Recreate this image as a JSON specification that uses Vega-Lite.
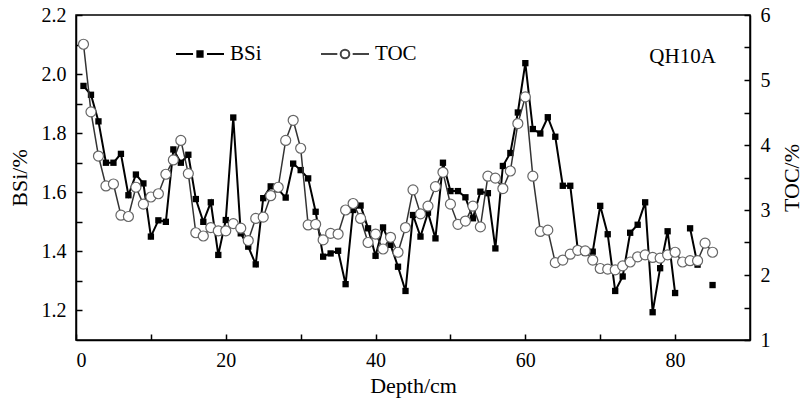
{
  "$schema": "https://vega.github.io/schema/vega-lite/v6.json",
  "width": 674,
  "height": 325,
  "autosize": {"type": "none"},
  "padding": {"left": 76, "top": 15, "right": 54, "bottom": 66},
  "background": "white",
  "config": {
    "font": "Liberation Serif",
    "view": {"stroke": "black", "strokeWidth": 1.5},
    "axis": {
      "grid": false,
      "domainColor": "black",
      "domainWidth": 1.5,
      "tickColor": "black",
      "tickWidth": 1.5,
      "labelColor": "black",
      "labelFont": "Liberation Serif",
      "labelFontSize": 20,
      "titleFont": "Liberation Serif",
      "titleFontSize": 22,
      "titleFontWeight": "normal",
      "titleColor": "black"
    },
    "legend": {
      "labelFont": "Liberation Serif",
      "labelFontSize": 21,
      "labelColor": "black"
    }
  },
  "data": {
    "values": [
      {"d": 1, "BSi": 1.96, "TOC": 5.55, "seg": 1},
      {"d": 2, "BSi": 1.93, "TOC": 4.51, "seg": 1},
      {"d": 3, "BSi": 1.84, "TOC": 3.83, "seg": 1},
      {"d": 4, "BSi": 1.70, "TOC": 3.37, "seg": 1},
      {"d": 5, "BSi": 1.70, "TOC": 3.40, "seg": 1},
      {"d": 6, "BSi": 1.73, "TOC": 2.92, "seg": 1},
      {"d": 7, "BSi": 1.59, "TOC": 2.90, "seg": 1},
      {"d": 8, "BSi": 1.66, "TOC": 3.35, "seg": 1},
      {"d": 9, "BSi": 1.63, "TOC": 3.09, "seg": 1},
      {"d": 10, "BSi": 1.45, "TOC": 3.20, "seg": 1},
      {"d": 11, "BSi": 1.505, "TOC": 3.25, "seg": 1},
      {"d": 12, "BSi": 1.50, "TOC": 3.55, "seg": 1},
      {"d": 13, "BSi": 1.745, "TOC": 3.77, "seg": 1},
      {"d": 14, "BSi": 1.70, "TOC": 4.07, "seg": 1},
      {"d": 15, "BSi": 1.727, "TOC": 3.56, "seg": 1},
      {"d": 16, "BSi": 1.577, "TOC": 2.65, "seg": 1},
      {"d": 17, "BSi": 1.50, "TOC": 2.60, "seg": 1},
      {"d": 18, "BSi": 1.566, "TOC": 2.73, "seg": 1},
      {"d": 19, "BSi": 1.388, "TOC": 2.68, "seg": 1},
      {"d": 20, "BSi": 1.506, "TOC": 2.68, "seg": 1},
      {"d": 21, "BSi": 1.853, "TOC": 2.79, "seg": 1},
      {"d": 22, "BSi": 1.461, "TOC": 2.72, "seg": 1},
      {"d": 23, "BSi": 1.416, "TOC": 2.53, "seg": 1},
      {"d": 24, "BSi": 1.356, "TOC": 2.87, "seg": 1},
      {"d": 25, "BSi": 1.58, "TOC": 2.89, "seg": 1},
      {"d": 26, "BSi": 1.62, "TOC": 3.22, "seg": 1},
      {"d": 27, "BSi": 1.61, "TOC": 3.35, "seg": 1},
      {"d": 28, "BSi": 1.582, "TOC": 4.07, "seg": 1},
      {"d": 29, "BSi": 1.697, "TOC": 4.38, "seg": 1},
      {"d": 30, "BSi": 1.675, "TOC": 3.95, "seg": 1},
      {"d": 31, "BSi": 1.647, "TOC": 2.77, "seg": 1},
      {"d": 32, "BSi": 1.534, "TOC": 2.78, "seg": 1},
      {"d": 33, "BSi": 1.382, "TOC": 2.54, "seg": 1},
      {"d": 34, "BSi": 1.393, "TOC": 2.64, "seg": 1},
      {"d": 35, "BSi": 1.402, "TOC": 2.63, "seg": 1},
      {"d": 36, "BSi": 1.289, "TOC": 3.00, "seg": 1},
      {"d": 37, "BSi": 1.540, "TOC": 3.10, "seg": 1},
      {"d": 38, "BSi": 1.555, "TOC": 2.87, "seg": 1},
      {"d": 39, "BSi": 1.478, "TOC": 2.50, "seg": 1},
      {"d": 40, "BSi": 1.385, "TOC": 2.63, "seg": 1},
      {"d": 41, "BSi": 1.481, "TOC": 2.40, "seg": 1},
      {"d": 42, "BSi": 1.422, "TOC": 2.58, "seg": 1},
      {"d": 43, "BSi": 1.348, "TOC": 2.35, "seg": 1},
      {"d": 44, "BSi": 1.266, "TOC": 2.73, "seg": 1},
      {"d": 45, "BSi": 1.523, "TOC": 3.31, "seg": 1},
      {"d": 46, "BSi": 1.450, "TOC": 2.94, "seg": 1},
      {"d": 47, "BSi": 1.531, "TOC": 3.06, "seg": 1},
      {"d": 48, "BSi": 1.444, "TOC": 3.36, "seg": 1},
      {"d": 49, "BSi": 1.700, "TOC": 3.58, "seg": 1},
      {"d": 50, "BSi": 1.604, "TOC": 3.09, "seg": 1},
      {"d": 51, "BSi": 1.604, "TOC": 2.78, "seg": 1},
      {"d": 52, "BSi": 1.583, "TOC": 2.83, "seg": 1},
      {"d": 53, "BSi": 1.512, "TOC": 3.06, "seg": 1},
      {"d": 54, "BSi": 1.602, "TOC": 2.74, "seg": 1},
      {"d": 55, "BSi": 1.597, "TOC": 3.52, "seg": 1},
      {"d": 56, "BSi": 1.410, "TOC": 3.49, "seg": 1},
      {"d": 57, "BSi": 1.689, "TOC": 3.33, "seg": 1},
      {"d": 58, "BSi": 1.733, "TOC": 3.60, "seg": 1},
      {"d": 59, "BSi": 1.870, "TOC": 4.33, "seg": 1},
      {"d": 60, "BSi": 2.037, "TOC": 4.74, "seg": 1},
      {"d": 61, "BSi": 1.814, "TOC": 3.52, "seg": 1},
      {"d": 62, "BSi": 1.799, "TOC": 2.67, "seg": 1},
      {"d": 63, "BSi": 1.854, "TOC": 2.69, "seg": 1},
      {"d": 64, "BSi": 1.788, "TOC": 2.19, "seg": 1},
      {"d": 65, "BSi": 1.622, "TOC": 2.23, "seg": 1},
      {"d": 66, "BSi": 1.622, "TOC": 2.32, "seg": 1},
      {"d": 67, "BSi": 1.407, "TOC": 2.38, "seg": 1},
      {"d": 68, "BSi": 1.395, "TOC": 2.37, "seg": 1},
      {"d": 69, "BSi": 1.399, "TOC": 2.23, "seg": 1},
      {"d": 70, "BSi": 1.554, "TOC": 2.10, "seg": 1},
      {"d": 71, "BSi": 1.458, "TOC": 2.09, "seg": 1},
      {"d": 72, "BSi": 1.266, "TOC": 2.08, "seg": 1},
      {"d": 73, "BSi": 1.315, "TOC": 2.14, "seg": 1},
      {"d": 74, "BSi": 1.463, "TOC": 2.20, "seg": 1},
      {"d": 75, "BSi": 1.49, "TOC": 2.28, "seg": 1},
      {"d": 76, "BSi": 1.566, "TOC": 2.31, "seg": 1},
      {"d": 77, "BSi": 1.194, "TOC": 2.27, "seg": 1},
      {"d": 78, "BSi": 1.343, "TOC": 2.26, "seg": 1},
      {"d": 79, "BSi": 1.468, "TOC": 2.31, "seg": 1},
      {"d": 80, "BSi": 1.259, "TOC": 2.35, "seg": 1},
      {"d": 81, "BSi": null, "TOC": 2.20, "seg": 1},
      {"d": 82, "BSi": 1.478, "TOC": 2.22, "seg": 2},
      {"d": 83, "BSi": 1.355, "TOC": 2.22, "seg": 2},
      {"d": 84, "BSi": null, "TOC": 2.49, "seg": 3},
      {"d": 85, "BSi": 1.286, "TOC": 2.35, "seg": 3}
    ]
  },
  "layer": [
    {
      "transform": [{"filter": "isValid(datum.BSi)"}],
      "mark": {"type": "line", "color": "black", "strokeWidth": 2},
      "encoding": {
        "x": {
          "field": "d",
          "type": "quantitative",
          "scale": {"domain": [0, 90], "nice": false},
          "axis": {
            "title": "Depth/cm",
            "values": [0, 10, 20, 30, 40, 50, 60, 70, 80],
            "labelExpr": "datum.value % 20 === 0 ? format(datum.value, 'd') : ''",
            "tickSize": -6,
            "labelPadding": 16,
            "titlePadding": 5
          }
        },
        "y": {
          "field": "BSi",
          "type": "quantitative",
          "scale": {"domain": [1.1, 2.2], "nice": false, "zero": false},
          "axis": {
            "orient": "left",
            "title": "BSi/%",
            "values": [1.2, 1.3, 1.4, 1.5, 1.6, 1.7, 1.8, 1.9, 2.0, 2.1, 2.2],
            "labelExpr": "round(datum.value * 10) % 2 === 0 ? format(datum.value, '.1f') : ''",
            "tickSize": -6,
            "labelPadding": 16,
            "titlePadding": 10
          }
        },
        "detail": {"field": "seg"}
      }
    },
    {
      "transform": [{"filter": "isValid(datum.BSi)"}],
      "mark": {"type": "square", "size": 40, "color": "black", "filled": true, "opacity": 1},
      "encoding": {
        "x": {"field": "d", "type": "quantitative"},
        "y": {"field": "BSi", "type": "quantitative", "scale": {"domain": [1.1, 2.2], "nice": false, "zero": false}, "axis": null}
      }
    },
    {
      "mark": {"type": "line", "color": "#333333", "strokeWidth": 1.5},
      "encoding": {
        "x": {"field": "d", "type": "quantitative"},
        "y": {
          "field": "TOC",
          "type": "quantitative",
          "scale": {"domain": [1, 6], "nice": false, "zero": false},
          "axis": {
            "orient": "right",
            "title": "TOC/%",
            "values": [1, 1.5, 2, 2.5, 3, 3.5, 4, 4.5, 5, 5.5, 6],
            "labelExpr": "datum.value % 1 === 0 ? format(datum.value, 'd') : ''",
            "tickSize": -6,
            "labelPadding": 16,
            "titlePadding": 11,
            "titleAngle": 270,
            "titleBaseline": "top"
          }
        }
      }
    },
    {
      "mark": {"type": "point", "shape": "circle", "size": 100, "fill": "white", "filled": false, "stroke": "#666666", "strokeWidth": 1.2, "opacity": 1},
      "encoding": {
        "x": {"field": "d", "type": "quantitative"},
        "y": {"field": "TOC", "type": "quantitative", "scale": {"domain": [1, 6], "nice": false, "zero": false}, "axis": null}
      }
    },
    {
      "data": {"values": [{"site": "QH10A", "xd": 81, "yv": 5.35}]},
      "mark": {"type": "text", "font": "Liberation Serif", "fontSize": 21, "color": "black", "align": "center", "baseline": "middle"},
      "encoding": {
        "x": {"field": "xd", "type": "quantitative"},
        "y": {"field": "yv", "type": "quantitative", "scale": {"domain": [1, 6], "nice": false, "zero": false}, "axis": null},
        "text": {"field": "site"}
      }
    },
    {
      "transform": [{"filter": "false"}],
      "mark": {"type": "point", "opacity": 1},
      "encoding": {
        "shape": {
          "datum": "BSi",
          "scale": {
            "domain": ["BSi", "TOC"],
            "range": [
              "M-1,0H-0.29M0.29,0H1M-0.11,-0.11H0.11V0.11H-0.11Z",
              "M-1,0H-0.32M0.32,0H1M-0.18,0A0.18,0.18 0 1,0 0.18,0A0.18,0.18 0 1,0 -0.18,0Z"
            ]
          },
          "legend": {
            "title": null,
            "orient": "none",
            "direction": "horizontal",
            "legendX": 99,
            "legendY": 14,
            "symbolSize": 2304,
            "symbolStrokeWidth": 2,
            "labelOffset": 5,
            "columnPadding": 55,
            "padding": 0
          }
        },
        "fill": {
          "datum": "BSi",
          "scale": {"domain": ["BSi", "TOC"], "range": ["black", "white"]},
          "legend": {
            "title": null,
            "orient": "none",
            "direction": "horizontal",
            "legendX": 99,
            "legendY": 14,
            "symbolSize": 2304,
            "symbolStrokeWidth": 2,
            "labelOffset": 5,
            "columnPadding": 55,
            "padding": 0
          }
        },
        "stroke": {
          "datum": "BSi",
          "scale": {"domain": ["BSi", "TOC"], "range": ["black", "#444444"]},
          "legend": {
            "title": null,
            "orient": "none",
            "direction": "horizontal",
            "legendX": 99,
            "legendY": 14,
            "symbolSize": 2304,
            "symbolStrokeWidth": 2,
            "labelOffset": 5,
            "columnPadding": 55,
            "padding": 0
          }
        }
      }
    }
  ],
  "resolve": {"scale": {"y": "independent"}}
}
